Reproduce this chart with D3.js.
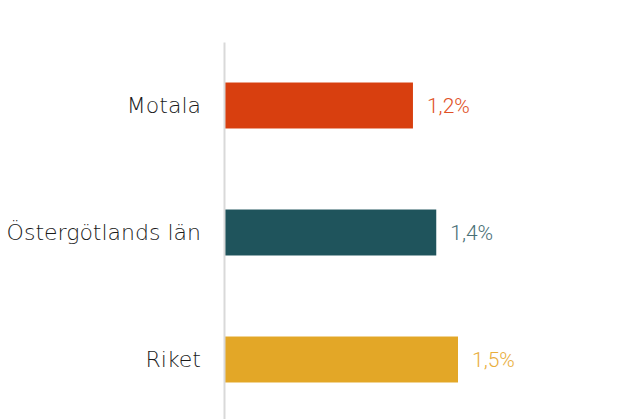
<!DOCTYPE html>
<html>
<head>
<meta charset="utf-8">
<script src="https://cdn.jsdelivr.net/npm/d3@7"></script>
<style>
  body { margin: 0; background: #fff; }
</style>
</head>
<body>
<svg id="chart"></svg>
<script>
// Chart data
const categories = ["Motala", "Östergötlands län", "Riket"];
const values = [1.21, 1.36, 1.50];
const barColors = ["#d83f0f", "#1f545c", "#e3a727"];
const labelColors = ["#e04f24", "#476e74", "#e9ae3c"];

const width = 633, height = 419;
const margin = { top: 42, right: 20, bottom: -4, left: 225 };

const svg = d3.select("#chart")
    .attr("width", width)
    .attr("height", height);

// x scale (value -> px)
const x = d3.scaleLinear()
    .domain([0, 1.5])
    .range([margin.left, margin.left + 233]);

// y scale (bands)
const y = d3.scaleBand()
    .domain(categories)
    .range([margin.top, height - margin.bottom])
    .paddingInner(0.638)
    .paddingOuter(0.319);

const data = categories.map((c, i) => ({ name: c, value: values[i], color: barColors[i], label: labelColors[i] }));

// Bars
svg.selectAll(".bar")
    .data(data)
    .enter().append("rect")
    .attr("class", "bar")
    .attr("x", x(0))
    .attr("y", d => y(d.name))
    .attr("width", d => x(d.value) - x(0))
    .attr("height", y.bandwidth())
    .attr("fill", d => d.color);

// Y axis (line only, labels on the left)
const yAxis = svg.append("g")
    .attr("transform", "translate(" + (margin.left - 1) + ",0)")
    .call(d3.axisLeft(y).tickSize(0).tickPadding(23));

yAxis.select(".domain")
    .attr("stroke", "#d9d9d9")
    .attr("stroke-width", 2);

yAxis.selectAll(".tick text")
    .attr("fill", "#1a1a1a")
    .style("font-size", "22px")
    .style("font-family", "'DejaVu Sans', sans-serif")
    .style("font-weight", 200);

// Value labels
svg.selectAll(".value")
    .data(data)
    .enter().append("text")
    .attr("class", "value")
    .attr("x", d => x(d.value) + 14)
    .attr("y", d => y(d.name) + y.bandwidth() / 2)
    .attr("dy", "0.35em")
    .attr("fill", d => d.label)
    .style("font-family", "Roboto, sans-serif")
    .style("font-weight", 300)
    .style("font-size", "21px")
    .text(d => d3.format(".1f")(d.value).replace(".", ",") + "%");
</script>
</body>
</html>
